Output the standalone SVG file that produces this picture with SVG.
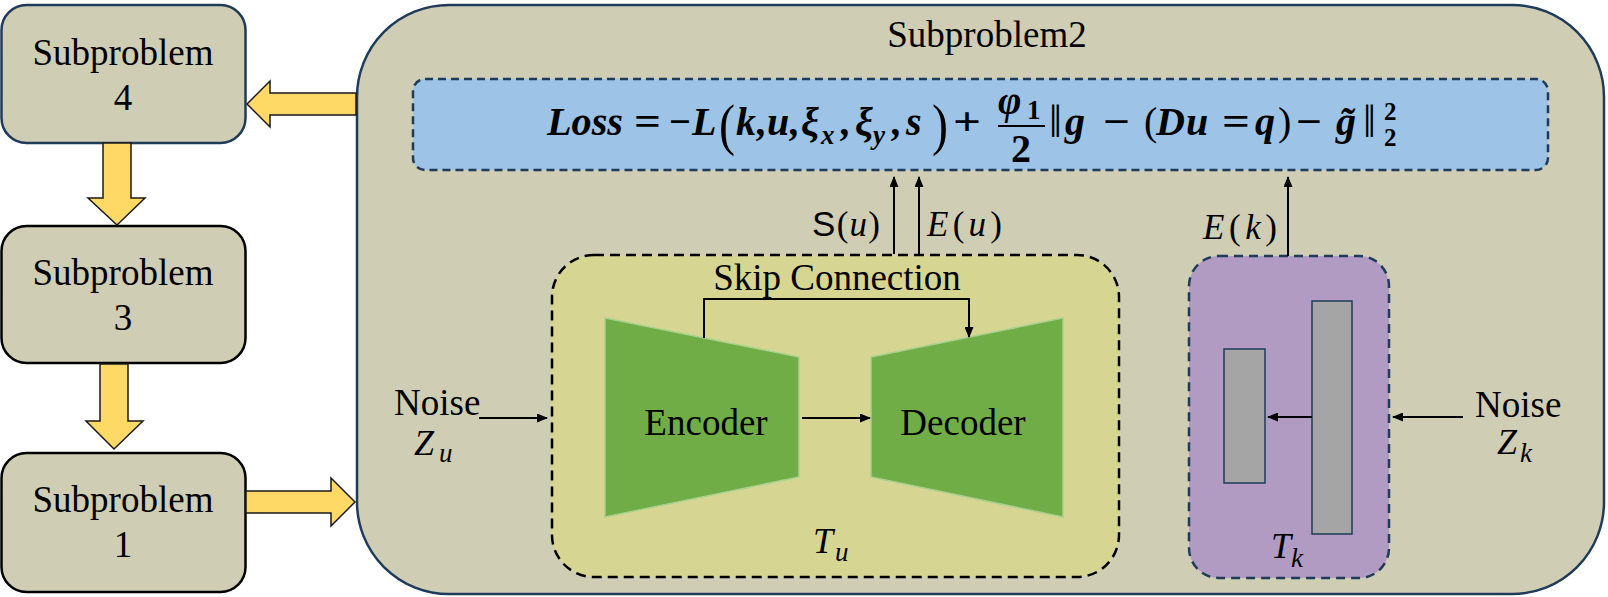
<svg xmlns="http://www.w3.org/2000/svg" width="1608" height="597" viewBox="0 0 1608 597">
<defs>
<marker id="ah" markerWidth="11" markerHeight="9" refX="10" refY="4.5" orient="auto" markerUnits="userSpaceOnUse">
<path d="M0,0 L11,4.5 L0,9 z" fill="#000"/>
</marker>
<style>
.t{font-family:"Liberation Serif","Times New Roman",serif;font-size:37px;fill:#000}
.c{text-anchor:middle}
.sp{fill:#cfcdb4;stroke-width:2.5}
.ya{fill:#ffd966;stroke:#1a1a1a;stroke-width:1.5}
.m{font-family:"Liberation Serif","DejaVu Serif",serif;font-weight:bold;font-style:italic;fill:#000}
.mr{font-family:"Liberation Serif","DejaVu Serif",serif;font-weight:bold;fill:#000}
.i{font-family:"Liberation Serif","DejaVu Serif",serif;font-style:italic;fill:#000}
.r{font-family:"Liberation Serif","DejaVu Serif",serif;fill:#000}
.ln{stroke:#000;stroke-width:2;fill:none}
</style>
</defs>

<g id="subproblem2">
<rect x="357" y="5" width="1247" height="589" rx="92" fill="#cfcdb4" stroke="#1f3b5a" stroke-width="2.5"/>
<text class="t c" x="987" y="47">Subproblem2</text>
</g>

<g id="subproblem4">
<rect class="sp" x="1.5" y="5" width="244" height="138" rx="25" stroke="#1f3b5a"/>
<text class="t c" x="123" y="65">Subproblem</text>
<text class="t c" x="123" y="110">4</text>
</g>
<g id="subproblem3">
<rect class="sp" x="1.5" y="226" width="244" height="137" rx="25" stroke="#000"/>
<text class="t c" x="123" y="285">Subproblem</text>
<text class="t c" x="123" y="330">3</text>
</g>
<g id="subproblem1">
<rect class="sp" x="1.5" y="453" width="244" height="139" rx="25" stroke="#000"/>
<text class="t c" x="123" y="512">Subproblem</text>
<text class="t c" x="123" y="557">1</text>
</g>

<g id="loss" font-size="40">
<rect x="413" y="79" width="1135" height="91" rx="12" fill="#9dc3e6" stroke="#1f3b5a" stroke-width="2.5" stroke-dasharray="8,5"/>
<text class="m" x="547" y="135" textLength="76" lengthAdjust="spacingAndGlyphs">Loss</text>
<text class="mr" x="634" y="135" textLength="27" lengthAdjust="spacingAndGlyphs">=</text>
<text class="mr" x="669" y="135" textLength="22" lengthAdjust="spacingAndGlyphs">−</text>
<text class="m" x="692" y="135">L</text>
<text class="r" x="719" y="144" font-size="56" textLength="16" lengthAdjust="spacingAndGlyphs">(</text>
<text class="m" x="736 757 767 790 801" y="135">k,u,ξ</text>
<text class="m" x="821" y="144" font-size="27">x</text>
<text class="m" x="841 855" y="135">,ξ</text>
<text class="m" x="873" y="144" font-size="27">y</text>
<text class="m" x="892 906" y="135">,s</text>
<text class="r" x="932" y="144" font-size="56" textLength="16" lengthAdjust="spacingAndGlyphs">)</text>
<text class="mr" x="953" y="135" textLength="28" lengthAdjust="spacingAndGlyphs">+</text>
<text class="m" x="998" y="114">φ</text>
<text class="mr" x="1027" y="119" font-size="27">1</text>
<line x1="998" y1="126" x2="1045" y2="126" stroke="#000" stroke-width="2"/>
<text class="mr c" x="1021" y="162">2</text>
<text class="r" x="1049" y="137" font-size="46">‖</text>
<text class="m" x="1065" y="135">g</text>
<text class="mr" x="1103" y="135" textLength="27" lengthAdjust="spacingAndGlyphs">−</text>
<text class="r" x="1144" y="135">(</text>
<text class="m" x="1156 1186" y="135">Du</text>
<text class="mr" x="1222" y="135" textLength="28" lengthAdjust="spacingAndGlyphs">=</text>
<text class="m" x="1255" y="135">q</text>
<text class="r" x="1278" y="135">)</text>
<text class="mr" x="1296" y="135" textLength="26" lengthAdjust="spacingAndGlyphs">−</text>
<text class="m" x="1336" y="135">g̃</text>
<text class="r" x="1363" y="137" font-size="46">‖</text>
<text class="mr" x="1384" y="120" font-size="25">2</text>
<text class="mr" x="1384" y="146" font-size="25">2</text>
</g>

<g id="tu">
<rect x="552" y="255" width="567" height="322" rx="42" fill="#d6d692" stroke="#000" stroke-width="2.5" stroke-dasharray="10,6"/>
<text class="t c" x="837" y="290">Skip Connection</text>
<text class="i" x="813" y="553" font-size="36">T</text>
<text class="i" x="835" y="561" font-size="27">u</text>
</g>
<g id="encoder">
<polygon points="605,318 799,357 799,477 605,517" fill="#70ad47" stroke="#a9d18e" stroke-width="1.5"/>
<text class="t c" x="706" y="435">Encoder</text>
</g>
<g id="decoder">
<polygon points="871,357 1063,318 1063,517 871,477" fill="#70ad47" stroke="#a9d18e" stroke-width="1.5"/>
<text class="t c" x="963" y="435">Decoder</text>
</g>

<g id="tk">
<rect x="1189" y="256" width="200" height="322" rx="30" fill="#b29bc3" stroke="#1f3b5a" stroke-width="2.5" stroke-dasharray="9,6"/>
<rect x="1224" y="349" width="41" height="134" fill="#a5a5a5" stroke="#1f3b5a" stroke-width="1.5"/>
<rect x="1312" y="301" width="40" height="233" fill="#a5a5a5" stroke="#1f3b5a" stroke-width="1.5"/>
<text class="i" x="1271" y="558" font-size="36">T</text>
<text class="i" x="1291" y="567" font-size="27">k</text>
</g>

<g id="noise-u">
<text class="t" x="394" y="415">Noise</text>
<text class="i" x="414" y="455" font-size="36">Z</text>
<text class="i" x="439" y="462" font-size="27">u</text>
</g>
<g id="noise-k">
<text class="t" x="1475" y="417">Noise</text>
<text class="i" x="1497" y="454" font-size="36">Z</text>
<text class="i" x="1520" y="462" font-size="27">k</text>
</g>

<g id="connectors">
<polygon class="ya" points="247,104 270,81 270,93 356,93 356,115 270,115 270,127"/>
<polygon class="ya" points="103,143 131,143 131,198 145,198 117,225 88,198 103,198"/>
<polygon class="ya" points="100,364 128,364 128,421 143,421 114,449 86,421 100,421"/>
<polygon class="ya" points="246,491 331,491 331,478 355,502 331,526 331,513 246,513"/>
<line class="ln" x1="894" y1="254" x2="894" y2="177" marker-end="url(#ah)"/>
<line class="ln" x1="919" y1="254" x2="919" y2="177" marker-end="url(#ah)"/>
<line class="ln" x1="1288" y1="256" x2="1288" y2="177" marker-end="url(#ah)"/>
<polyline class="ln" points="704,338 704,299 969,299 969,337" marker-end="url(#ah)"/>
<line class="ln" x1="802" y1="418" x2="870" y2="418" marker-end="url(#ah)"/>
<line class="ln" x1="479" y1="418" x2="547" y2="418" marker-end="url(#ah)"/>
<line class="ln" x1="1312" y1="417" x2="1268" y2="417" marker-end="url(#ah)"/>
<line class="ln" x1="1463" y1="417" x2="1393" y2="417" marker-end="url(#ah)"/>
<text class="i" x="880" y="236" font-size="35" text-anchor="end" textLength="68" lengthAdjust="spacing"><tspan font-family="Liberation Sans" font-style="normal">S</tspan><tspan font-style="normal">(</tspan>u<tspan font-style="normal">)</tspan></text>
<text class="i" x="927" y="236" font-size="35" textLength="75" lengthAdjust="spacing">E<tspan font-style="normal">(</tspan>u<tspan font-style="normal">)</tspan></text>
<text class="i" x="1203" y="239" font-size="35" textLength="74" lengthAdjust="spacing">E<tspan font-style="normal">(</tspan>k<tspan font-style="normal">)</tspan></text>
</g>
</svg>
